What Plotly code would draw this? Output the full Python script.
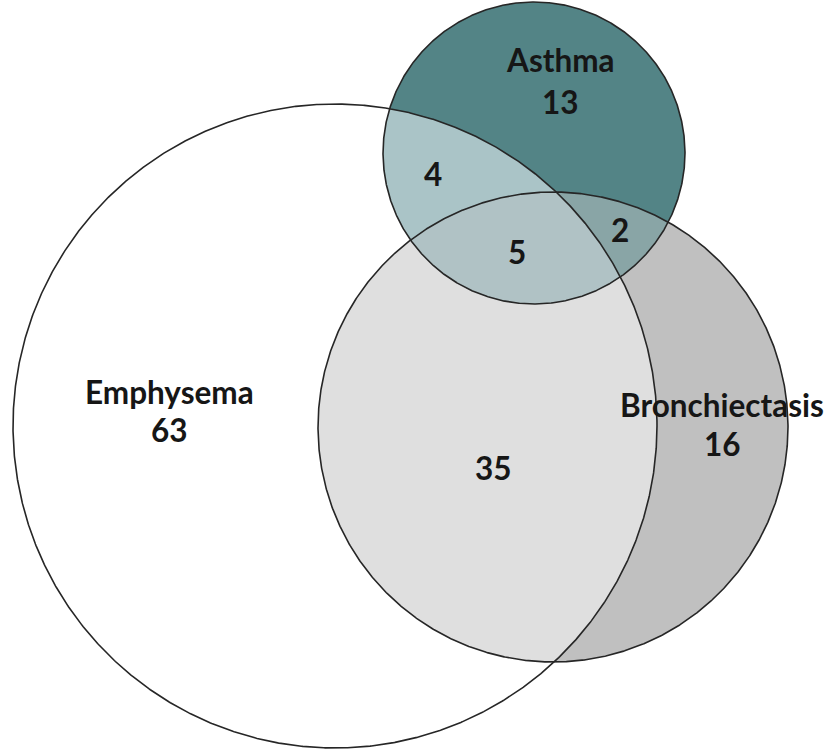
import numpy as np
import plotly.graph_objects as go

# ---- data ----
set_names = ["Emphysema", "Asthma", "Bronchiectasis"]
only_counts = [63, 13, 16]            # E only, A only, B only
pair_labels = ["E&A", "A&B", "E&B"]
pair_counts = [4, 2, 35]              # E∩A only, A∩B only, E∩B only
all_three_count = 5

# ---- geometry (pixel coordinates, y down) ----
circles = {
    "E": (335, 426, 322),
    "A": (534, 153, 151),
    "B": (553, 427, 235),
}
label_pos = {
    "Emphysema": (169, 392, 430),
    "Asthma": (560, 60, 102),
    "Bronchiectasis": (722, 405, 444),
}
pair_pos = {"E&A": (433, 174), "A&B": (620, 230), "E&B": (493, 468)}
all_pos = (517, 252)

colors = {
    "E": "#ffffff", "B": "#c0c0c0", "A": "#538486",
    "EB": "#dfdfdf", "EA": "#aac4c7", "AB": "#89a5a6", "EAB": "#b0c2c5",
}
outline = "#262626"
txt_color = "#161616"
FONT = "Lato"


def circle_pts(key, n=1440):
    cx, cy, r = circles[key]
    t = np.linspace(0, 2 * np.pi, n, endpoint=False)
    return cx + r * np.cos(t), cy + r * np.sin(t)


def inside(key, x, y, tol=0.01):
    cx, cy, r = circles[key]
    return (x - cx) ** 2 + (y - cy) ** 2 <= r * r * (1 + tol)


def intersection_poly(keys):
    xs, ys = [], []
    for k in keys:
        x, y = circle_pts(k)
        m = np.ones_like(x, dtype=bool)
        for o in keys:
            if o != k:
                m &= inside(o, x, y)
        xs.append(x[m])
        ys.append(y[m])
    x = np.concatenate(xs)
    y = np.concatenate(ys)
    mx, my = x.mean(), y.mean()
    order = np.argsort(np.arctan2(y - my, x - mx))
    x, y = x[order], y[order]
    return np.append(x, x[0]), np.append(y, y[0])


fig = go.Figure()


def add_fill(x, y, color):
    fig.add_trace(go.Scatter(x=x, y=y, mode="lines", fill="toself",
                             fillcolor=color, line=dict(width=0),
                             hoverinfo="skip", showlegend=False))


for k in ["E", "B"]:
    x, y = circle_pts(k)
    add_fill(np.append(x, x[0]), np.append(y, y[0]), colors[k])
add_fill(*intersection_poly(["E", "B"]), colors["EB"])
x, y = circle_pts("A")
add_fill(np.append(x, x[0]), np.append(y, y[0]), colors["A"])
add_fill(*intersection_poly(["E", "A"]), colors["EA"])
add_fill(*intersection_poly(["A", "B"]), colors["AB"])
add_fill(*intersection_poly(["E", "A", "B"]), colors["EAB"])

for k in ["E", "A", "B"]:
    x, y = circle_pts(k)
    fig.add_trace(go.Scatter(x=np.append(x, x[0]), y=np.append(y, y[0]),
                             mode="lines", line=dict(color=outline, width=1.6),
                             hoverinfo="skip", showlegend=False))

font = dict(family=FONT, size=31.5, color=txt_color, weight="bold")
ann = []
for name, cnt in zip(set_names, only_counts):
    lx, ly1, ly2 = label_pos[name]
    ann.append(dict(x=lx, y=ly1, text=name, showarrow=False, font=font,
                    xanchor="center", yanchor="middle"))
    ann.append(dict(x=lx, y=ly2, text=str(cnt), showarrow=False, font=font,
                    xanchor="center", yanchor="middle"))
for lab, cnt in zip(pair_labels, pair_counts):
    px, py = pair_pos[lab]
    ann.append(dict(x=px, y=py, text=str(cnt), showarrow=False, font=font,
                    xanchor="center", yanchor="middle"))
ann.append(dict(x=all_pos[0], y=all_pos[1], text=str(all_three_count),
                showarrow=False, font=font, xanchor="center", yanchor="middle"))

fig.update_layout(
    width=828, height=750, autosize=False,
    margin=dict(l=0, r=0, t=0, b=0),
    paper_bgcolor="white", plot_bgcolor="white",
    xaxis=dict(range=[0, 828], visible=False, fixedrange=True),
    yaxis=dict(range=[750, 0], visible=False, fixedrange=True),
    annotations=ann, showlegend=False, hovermode=False,
)

fig.write_html("out.html",
               config={"displayModeBar": False, "staticPlot": True},
               post_script="document.body.style.margin='0px';"
                           "document.body.style.overflow='hidden';")
